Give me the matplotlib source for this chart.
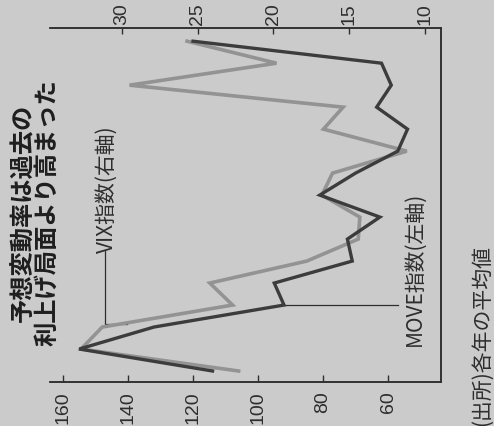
import matplotlib
matplotlib.use("Agg")
import matplotlib.pyplot as plt
from matplotlib import font_manager as fm

years = list(range(2007, 2023))
move_values = [114, 155, 132, 92, 95, 71, 72.5, 62.5, 81, 70, 57, 54, 63.5, 59, 62, 120]
vix_values = [22.3, 32.7, 31.3, 22.7, 24.2, 17.8, 14.4, 14.3, 16.8, 16.1, 11.2, 16.7, 15.4, 29.5, 19.8, 25.7]
year_ticks = [2007, 2010, 2015, 2020, 2022]
year_labels = ["2007", "10", "15", "20", "22"]
move_ticks = [60, 80, 100, 120, 140, 160]
vix_ticks = [10, 15, 20, 25, 30]
title_lines = ["予想変動率は過去の", "利上げ局面より高まった"]
vix_label = "VIX指数(右軸)"
move_label = "MOVE指数(左軸)"
source = "(出所)各年の平均値"

names = {f.name for f in fm.fontManager.ttflist}
num_font = "Liberation Sans Narrow" if "Liberation Sans Narrow" in names else "Liberation Sans"
jp = ["Noto Sans CJK JP", "DejaVu Sans"]

W, H = 494, 427
bg = "#cbcbcb"
ink = "#2e2e2e"
dark = "#3c3c3c"
gray = "#939393"

fig = plt.figure(figsize=(W / 100, H / 100), dpi=100, facecolor=bg)

def fx(px):
    return px / W

def fy(py):
    return 1 - py / H

rect = [fx(50), fy(383), fx(441) - fx(50), fy(29) - fy(383)]
ax = fig.add_axes(rect)          # VIX (top axis)
ax.set_facecolor("none")
ax2 = ax.twiny()                 # MOVE (bottom axis), drawn above

ax.set_ylim(2006.5, 2022.6)
ax.set_xlim(34.75, 8.94)
ax2.set_xlim(164.0, 43.7)

ax.plot(vix_values, years, color=gray, lw=2.6, solid_joinstyle="miter", zorder=2)
ax2.plot(move_values, years, color=dark, lw=2.4, solid_joinstyle="miter", zorder=3)

# VIX axis on top
ax.xaxis.tick_top()
ax.set_xticks(vix_ticks)
ax.set_xticklabels([str(v) for v in vix_ticks], rotation=90, fontsize=14,
                   family=num_font, color=ink)
ax.tick_params(axis="x", direction="in", length=4, width=1, pad=3, color=ink,
               top=True, bottom=False, labeltop=True, labelbottom=False)
# years on right
ax.yaxis.tick_right()
ax.set_yticks(year_ticks)
ax.set_yticklabels(year_labels, rotation=90, fontsize=14, family=num_font,
                   color=ink, va="center")
ax.tick_params(axis="y", direction="in", length=4, width=1, pad=6, color=ink,
               right=True, left=False, labelright=True, labelleft=False)

# MOVE axis on bottom
ax2.xaxis.tick_bottom()
ax2.set_xticks(move_ticks)
ax2.set_xticklabels([str(v) for v in move_ticks], rotation=90, fontsize=14,
                    family=num_font, color=ink)
ax2.tick_params(axis="x", direction="in", length=5, width=1, pad=6, color=ink,
                top=False, bottom=True, labeltop=False, labelbottom=True)
ax2.set_yticks([])

for a in (ax, ax2):
    a.spines["left"].set_visible(False)
    for s in ("top", "bottom", "right"):
        a.spines[s].set_color(ink)
        a.spines[s].set_linewidth(1.1)

# leader lines
ax.plot([31.1, 31.1, 29.7], [2012.45, 2009.14, 2009.14], color=ink, lw=0.9, zorder=1)
ax2.plot([move_values[3], 57], [2010, 2010], color=ink, lw=0.9, zorder=1)

# labels
fig.text(fx(107), fy(253), vix_label, rotation=90, ha="center", va="bottom",
         fontsize=15, family=jp, color=ink)
fig.text(fx(415), fy(346), move_label, rotation=90, ha="center", va="bottom",
         fontsize=15, family=jp, color=ink)

# title (two lines, centred)
fig.text(fx(35), fy(213), "\n".join(title_lines), rotation=90, ha="center",
         va="center", multialignment="center", linespacing=0.98,
         fontsize=17.5, family=jp, weight="bold", color="#1e1e1e")

# source
fig.text(fx(482), fy(426), source, rotation=90, ha="center", va="bottom",
         fontsize=15, family=jp, color=ink)

fig.savefig("out.png", dpi=100, facecolor=bg)
